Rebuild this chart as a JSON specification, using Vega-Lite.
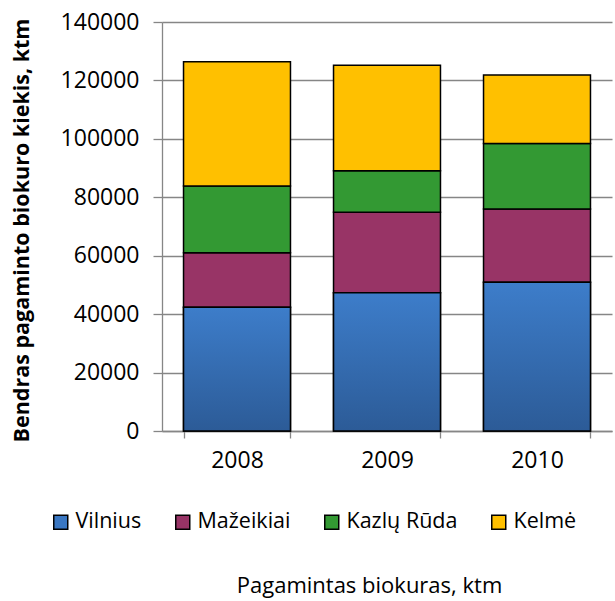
{
  "$schema": "https://vega.github.io/schema/vega-lite/v6.json",
  "autosize": "none",
  "width": 450,
  "height": 409,
  "padding": {"left": 162, "top": 22, "right": 3, "bottom": 170},
  "background": "white",
  "config": {
    "font": "Open Sans",
    "view": {"stroke": null}
  },
  "data": {
    "values": [
      {"year": "2008", "city": "Vilnius", "value": 42400},
      {"year": "2008", "city": "Mažeikiai", "value": 18600},
      {"year": "2008", "city": "Kazlų Rūda", "value": 22900},
      {"year": "2008", "city": "Kelmė", "value": 42500},
      {"year": "2009", "city": "Vilnius", "value": 47300},
      {"year": "2009", "city": "Mažeikiai", "value": 27600},
      {"year": "2009", "city": "Kazlų Rūda", "value": 14200},
      {"year": "2009", "city": "Kelmė", "value": 36100},
      {"year": "2010", "city": "Vilnius", "value": 50900},
      {"year": "2010", "city": "Mažeikiai", "value": 25100},
      {"year": "2010", "city": "Kazlų Rūda", "value": 22400},
      {"year": "2010", "city": "Kelmė", "value": 23500}
    ]
  },
  "transform": [
    {"calculate": "indexof(['Vilnius', 'Mažeikiai', 'Kazlų Rūda', 'Kelmė'], datum.city)", "as": "stackOrder"}
  ],
  "encoding": {
    "x": {
      "field": "year",
      "type": "nominal",
      "scale": {"paddingInner": 0.287, "paddingOuter": 0.1435},
      "axis": {
        "title": "Pagamintas biokuras, ktm",
        "titleFontSize": 22,
        "titleFontWeight": "normal",
        "titleColor": "black",
        "titleX": 207,
        "titleY": 161,
        "titleBaseline": "alphabetic",
        "labelAngle": 0,
        "labelFontSize": 23,
        "labelColor": "black",
        "labelPadding": 11,
        "tickBand": "extent",
        "tickSize": 7,
        "tickColor": "#868686",
        "tickWidth": 1.3,
        "domainColor": "#868686",
        "domainWidth": 1.3,
        "grid": false
      }
    }
  },
  "layer": [
    {
      "mark": {"type": "bar", "stroke": "black", "strokeWidth": 1.5},
      "encoding": {
        "y": {
          "field": "value",
          "type": "quantitative",
          "aggregate": "sum",
          "stack": "zero",
          "scale": {"domain": [0, 140000], "nice": false},
          "axis": {
            "title": "Bendras pagaminto biokuro kiekis, ktm",
            "titleFontSize": 21.5,
            "titleFontWeight": "bold",
            "titleColor": "black",
            "titleAngle": -90,
            "titleX": -129,
            "titleY": 208,
            "titleAlign": "center",
            "titleBaseline": "bottom",
            "values": [0, 20000, 40000, 60000, 80000, 100000, 120000, 140000],
            "format": "d",
            "labelFontSize": 23,
            "labelColor": "black",
            "labelPadding": 14,
            "tickSize": 9,
            "tickColor": "#868686",
            "tickWidth": 1.3,
            "domainColor": "#868686",
            "domainWidth": 1.3,
            "grid": true,
            "gridColor": "#868686",
            "gridWidth": 1.3
          }
        },
        "color": {
          "field": "city",
          "type": "nominal",
          "sort": ["Vilnius", "Mažeikiai", "Kazlų Rūda", "Kelmė"],
          "scale": {
            "domain": ["Vilnius", "Mažeikiai", "Kazlų Rūda", "Kelmė"],
            "range": ["#3A77C2", "#983466", "#339933", "#FFC000"]
          },
          "legend": {
            "title": null,
            "orient": "none",
            "direction": "horizontal",
            "legendX": -112,
            "legendY": 489,
            "symbolType": "square",
            "symbolSize": 196,
            "symbolStrokeColor": "black",
            "symbolStrokeWidth": 1.5,
            "symbolOpacity": 1,
            "labelFontSize": 21.5,
            "labelColor": "black",
            "labelOffset": 4,
            "columnPadding": 30
          }
        },
        "order": {"field": "stackOrder", "type": "quantitative", "sort": "ascending"}
      }
    },
    {
      "transform": [{"filter": "datum.city === 'Vilnius'"}],
      "mark": {
        "type": "bar",
        "stroke": "black",
        "strokeWidth": 1.5,
        "color": {"gradient": "linear", "x1": 0, "y1": 0, "x2": 0, "y2": 1, "stops": [{"offset": 0, "color": "#3D7DCA"}, {"offset": 1, "color": "#2C5B97"}]}
      },
      "encoding": {
        "y": {"field": "value", "type": "quantitative", "aggregate": "sum", "stack": "zero"}
      }
    }
  ]
}
